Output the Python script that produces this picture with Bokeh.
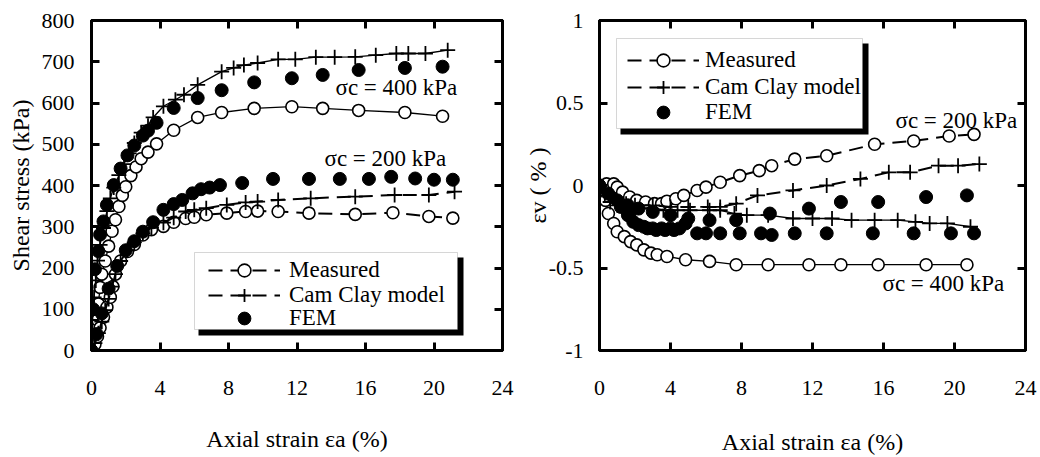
from bokeh.plotting import figure
from bokeh.layouts import row
from bokeh.models import (Range1d, LinearAxis, FixedTicker, Legend, LegendItem,
                          BoxAnnotation, Label)
from bokeh.embed import file_html
from bokeh.resources import INLINE

FONT = "Liberation Serif"

# ---------------- Left panel: shear stress (kPa) vs axial strain (%) ----------------
meas400_x = [0, 0.1, 0.2, 0.35, 0.4, 0.5, 0.6, 0.8, 1.0, 1.2, 1.4, 1.6, 1.8, 2.0, 2.3, 2.6, 2.9,
             3.3, 3.8, 4.8, 6.2, 7.6, 9.5, 11.7, 13.5, 15.6, 18.3, 20.5]
meas400_y = [0, 10, 34, 74, 113, 153, 185, 217, 253, 289, 317, 349, 376, 397, 424, 445, 465,
             481, 501, 534, 565, 577, 587, 591, 587, 582, 577, 568]

cam400_x = [0, 0.05, 0.15, 0.25, 0.35, 0.5, 0.7, 0.9, 1.1, 1.3, 1.6, 1.9, 2.2, 2.5, 2.9, 3.3,
            3.6, 4.2, 4.9, 5.4, 6.2, 7.6, 8.3, 8.9, 9.7, 10.9, 11.9, 13.1, 14.2, 15.4, 16.6,
            17.8, 18.5, 19.5, 20.8]
cam400_y = [0, 74, 129, 170, 218, 256, 297, 338, 369, 395, 425, 452, 478, 503, 528, 545,
            565, 592, 608, 620, 644, 676, 685, 692, 697, 706, 706, 711, 711, 712, 716,
            720, 720, 720, 728]

fem400_x = [0, 0.1, 0.2, 0.4, 0.5, 0.7, 0.9, 1.3, 1.7, 2.1, 2.5, 3.0, 3.3, 3.8, 4.8, 6.2, 7.6,
            9.5, 11.7, 13.5, 15.6, 18.3, 20.5]
fem400_y = [0, 100, 197, 241, 281, 313, 353, 401, 441, 473, 497, 521, 533, 552, 588, 612, 631,
            650, 660, 668, 680, 685, 688]

meas200_x = [0, 0.2, 0.35, 0.5, 0.7, 0.9, 1.1, 1.25, 1.4, 1.7, 2.1, 2.5, 3.0, 3.5, 4.2, 4.8,
             5.5, 6.0, 6.7, 7.9, 9.0, 9.7, 10.9, 12.7, 15.4, 17.6, 19.7, 21.1]
meas200_y = [0, 15, 34, 55, 81, 105, 129, 155, 185, 217, 240, 257, 280, 293, 301, 311,
             320, 323, 329, 333, 337, 338, 337, 333, 330, 334, 325, 321]

cam200_x = [0, 0.2, 0.4, 0.6, 0.8, 1.0, 1.2, 1.4, 1.7, 2.1, 2.5, 3.0, 3.5, 4.2, 4.8, 5.5, 6.0,
            6.7, 7.9, 9.0, 9.7, 10.9, 12.8, 15.4, 17.7, 19.7, 21.2]
cam200_y = [0, 18, 42, 70, 98, 125, 155, 185, 217, 243, 262, 284, 298, 310, 322, 337, 341,
            345, 353, 359, 361, 365, 369, 373, 377, 377, 385]

fem200_x = [0, 0.3, 0.6, 1.0, 1.5, 2.0, 2.5, 3.0, 3.6, 4.2, 4.8, 5.3, 5.9, 6.4, 6.9, 7.5, 8.8,
            10.6, 12.7, 14.5, 16.2, 17.5, 18.9, 20.0, 21.1]
fem200_y = [0, 40, 90, 150, 205, 243, 265, 288, 311, 341, 355, 365, 381, 391, 395, 401, 406,
            416, 416, 416, 416, 421, 417, 414, 414]

# ---------------- Right panel: volumetric strain (%) vs axial strain (%) ----------------
vmeas200_x = [0, 0.06, 0.4, 0.8, 1.0, 1.3, 1.7, 2.1, 2.6, 3.1, 3.5, 3.8, 4.3, 4.75, 5.5, 6.0,
              6.8, 7.9, 9.0, 9.7, 11.0, 12.8, 15.5, 17.7, 19.7, 21.1]
vmeas200_y = [0, 0.0, 0.01, 0.01, -0.01, -0.04, -0.07, -0.09, -0.10, -0.11, -0.11, -0.095,
              -0.08, -0.06, -0.03, -0.01, 0.02, 0.06, 0.09, 0.12, 0.16, 0.18, 0.25, 0.27,
              0.30, 0.31]

vmeas400_x = [0, 0.06, 0.34, 0.5, 0.8, 1.0, 1.4, 1.75, 2.1, 2.5, 2.9, 3.25, 3.8, 4.85, 6.2,
              7.7, 9.5, 11.8, 13.6, 15.7, 18.4, 20.7]
vmeas400_y = [0, -0.03, -0.09, -0.17, -0.23, -0.28, -0.31, -0.34, -0.36, -0.39, -0.41, -0.42,
              -0.43, -0.45, -0.46, -0.48, -0.48, -0.48, -0.48, -0.48, -0.48, -0.48]

vcam200_x = [0, 0.3, 0.6, 1.0, 1.5, 2.0, 3.0, 4.0, 5.0, 6.1, 6.8, 7.7, 8.9, 10.9, 12.8, 14.7,
             16.3, 17.5, 19.1, 20.2, 21.4]
vcam200_y = [0, -0.04, -0.07, -0.10, -0.11, -0.12, -0.12, -0.13, -0.13, -0.13, -0.13, -0.11,
             -0.06, -0.03, 0.0, 0.04, 0.08, 0.08, 0.12, 0.12, 0.13]

vcam400_x = [0, 0.3, 0.6, 1.0, 1.5, 2.0, 3.0, 3.6, 4.4, 5.1, 6.2, 6.8, 7.6, 8.3, 9.5, 10.9,
             12.0, 13.1, 14.2, 15.5, 16.8, 17.8, 18.6, 19.6, 20.9]
vcam400_y = [0, -0.06, -0.10, -0.12, -0.13, -0.14, -0.14, -0.15, -0.15, -0.15, -0.15, -0.15,
             -0.17, -0.18, -0.18, -0.20, -0.20, -0.20, -0.21, -0.21, -0.21, -0.22, -0.23,
             -0.23, -0.25]

vfem200_x = [0, 0.5, 1.0, 1.6, 2.2, 3.0, 4.0, 5.0, 6.2, 7.7, 9.6, 11.8, 13.6, 15.7, 18.4, 20.7]
vfem200_y = [0, -0.05, -0.09, -0.12, -0.14, -0.16, -0.18, -0.20, -0.21, -0.21, -0.17, -0.14,
             -0.10, -0.10, -0.07, -0.06]

vfem400_x = [0, 0.34, 0.8, 1.2, 1.6, 1.9, 2.2, 2.5, 2.7, 3.0, 3.2, 3.5, 3.7, 4.0, 4.2, 4.5,
             4.85, 5.5, 6.0, 6.8, 7.9, 9.1, 9.7, 11.0, 12.8, 15.4, 17.7, 19.8, 21.1]
vfem400_y = [0, -0.02, -0.07, -0.13, -0.18, -0.22, -0.24, -0.25, -0.26, -0.26, -0.27, -0.26,
             -0.27, -0.26, -0.27, -0.26, -0.23, -0.29, -0.29, -0.29, -0.29, -0.29, -0.30,
             -0.29, -0.29, -0.29, -0.29, -0.29, -0.29]

x_ticks = [0, 4, 8, 12, 16, 20, 24]
left_y_ticks = [0, 100, 200, 300, 400, 500, 600, 700, 800]
right_y_ticks = [-1, -0.5, 0, 0.5, 1]
right_y_labels = ["-1", "-0.5", "0", "0.5", "1"]

legend_labels = ["Measured", "Cam Clay model", "FEM"]

TOP = 20      # frame top (px)
BOTTOM = 350  # frame bottom (px), shared by both panels
ROW_H = 32    # legend row height (also sets the legend marker size)


def make_fig(y_start, y_end, mb_left, mb_right):
    p = figure(width=520, height=457, x_range=Range1d(0, 24), y_range=Range1d(y_start, y_end),
               output_backend="svg", toolbar_location=None,
               min_border_left=mb_left, min_border_right=mb_right,
               min_border_top=TOP, min_border_bottom=457 - BOTTOM)
    p.grid.visible = False
    p.outline_line_color = "black"
    p.outline_line_width = 3
    p.background_fill_color = "white"
    p.border_fill_color = "white"
    return p


def style_axis(ax, ticks, label_size="22px", standoff=16, title_standoff=10):
    ax.ticker = FixedTicker(ticks=ticks)
    ax.minor_tick_line_color = None
    ax.major_tick_in = 8
    ax.major_tick_out = 0
    ax.major_tick_line_width = 3
    ax.major_tick_line_color = "black"
    ax.axis_line_width = 3
    ax.axis_line_color = "black"
    ax.major_label_text_font = FONT
    ax.major_label_text_font_size = label_size
    ax.major_label_text_color = "black"
    ax.major_label_standoff = standoff
    ax.axis_label_text_font = FONT
    ax.axis_label_text_font_size = "24px"
    ax.axis_label_text_font_style = "normal"
    ax.axis_label_text_color = "black"
    ax.axis_label_standoff = title_standoff


def add_mirror_axes(p, yticks):
    top = LinearAxis()
    right = LinearAxis()
    style_axis(top, x_ticks, label_size="0px", standoff=0)
    style_axis(right, yticks, label_size="0px", standoff=0)
    top.major_label_text_alpha = 0
    right.major_label_text_alpha = 0
    p.add_layout(top, "above")
    p.add_layout(right, "right")


def series(p, xs, ys, kind, dashed):
    dash = "14 8" if dashed else "solid"
    rends = []
    if kind != "fem":
        rends.append(p.line(xs, ys, line_color="black", line_width=2.0 if dashed else 1.3,
                            line_dash=dash))
    if kind == "meas":
        rends.append(p.scatter(xs, ys, marker="circle", size=12, fill_color="white",
                               line_color="black", line_width=1.6))
    elif kind == "cam":
        rends.append(p.scatter(xs, ys, marker="cross", size=15, line_color="black",
                               line_width=1.8))
    else:
        rends.append(p.scatter(xs, ys, marker="circle", size=13, fill_color="black",
                               line_color="black"))
    return rends


def legend_box(p, fx, fy, l, r, t, b):
    # fx, fy: pixel -> data mapping helpers
    p.add_layout(BoxAnnotation(left=fx(l + 4), right=fx(r + 6), top=fy(t + 5), bottom=fy(b + 6),
                               fill_color="black", fill_alpha=1, line_color=None))
    p.add_layout(BoxAnnotation(left=fx(l), right=fx(r), top=fy(t), bottom=fy(b),
                               fill_color="white", fill_alpha=1, line_color="#777777",
                               line_width=1))


def add_legend_rows(p, items_r, x, centers, standoff):
    # one single-item legend per row, so the row pitch can match the reference
    for lab, rs, c in zip(legend_labels, items_r, centers):
        lg = Legend(items=[LegendItem(label=lab, renderers=rs)],
                    location=(x, BOTTOM - (c + ROW_H // 2)),
                    orientation="vertical", background_fill_alpha=0, border_line_color=None,
                    label_text_font=FONT, label_text_font_size="23px",
                    label_text_color="black", glyph_width=72, glyph_height=ROW_H,
                    label_height=ROW_H, label_standoff=standoff, spacing=0, padding=0,
                    margin=0)
        p.add_layout(lg)


def note(p, x, y, text):
    p.add_layout(Label(x=x, y=y, text=text, text_font=FONT, text_font_size="23px",
                       text_color="black", text_baseline="middle", text_align="left"))


# ---------------- Left figure ----------------
p1 = make_fig(0, 800, 91, 18)
style_axis(p1.xaxis[0], x_ticks, standoff=30, title_standoff=28)
style_axis(p1.yaxis[0], left_y_ticks, standoff=17, title_standoff=5)
p1.xaxis[0].axis_label = "Axial strain εa (%)"
p1.yaxis[0].axis_label = "Shear stress (kPa)"
add_mirror_axes(p1, left_y_ticks)

L_fx = lambda px: (px - 91) / 411 * 24
L_fy = lambda py: (BOTTOM - py) / (BOTTOM - TOP) * 800

series(p1, meas400_x, meas400_y, "meas", False)
series(p1, cam400_x, cam400_y, "cam", False)
series(p1, fem400_x, fem400_y, "fem", False)
m200 = series(p1, meas200_x, meas200_y, "meas", True)
c200 = series(p1, cam200_x, cam200_y, "cam", True)
f200 = series(p1, fem200_x, fem200_y, "fem", True)

note(p1, L_fx(335), L_fy(87), "σc = 400 kPa")
note(p1, L_fx(324), L_fy(158), "σc = 200 kPa")

legend_box(p1, L_fx, L_fy, 194, 457, 252, 329)
add_legend_rows(p1, [m200, c200, f200], 208 - 91, [270, 295, 318], 9)

# ---------------- Right figure ----------------
p2 = make_fig(-1, 1, 79, 15)
style_axis(p2.xaxis[0], x_ticks, standoff=30, title_standoff=31)
style_axis(p2.yaxis[0], right_y_ticks, standoff=16, title_standoff=-5)
p2.yaxis[0].major_label_overrides = {t: s for t, s in zip(right_y_ticks, right_y_labels)}
p2.xaxis[0].axis_label = "Axial strain εa (%)"
p2.yaxis[0].axis_label = "εv ( % )"
add_mirror_axes(p2, right_y_ticks)

R_fx = lambda px: (px - 599) / 426 * 24
R_fy = lambda py: ((TOP + BOTTOM) / 2 - py) / ((BOTTOM - TOP) / 2)

series(p2, vmeas400_x, vmeas400_y, "meas", False)
series(p2, vcam400_x, vcam400_y, "cam", False)
series(p2, vfem400_x, vfem400_y, "fem", False)
vm200 = series(p2, vmeas200_x, vmeas200_y, "meas", True)
vc200 = series(p2, vcam200_x, vcam200_y, "cam", True)
vf200 = series(p2, vfem200_x, vfem200_y, "fem", True)

note(p2, R_fx(895), R_fy(120), "σc = 200 kPa")
note(p2, R_fx(882), R_fy(283), "σc = 400 kPa")

legend_box(p2, R_fx, R_fy, 616, 862, 38, 128)
add_legend_rows(p2, [vm200, vc200, vf200], 627 - 599, [60, 87, 112], 6)

layout = row(p1, p2)
open("out.html", "w").write(file_html(layout, INLINE))
